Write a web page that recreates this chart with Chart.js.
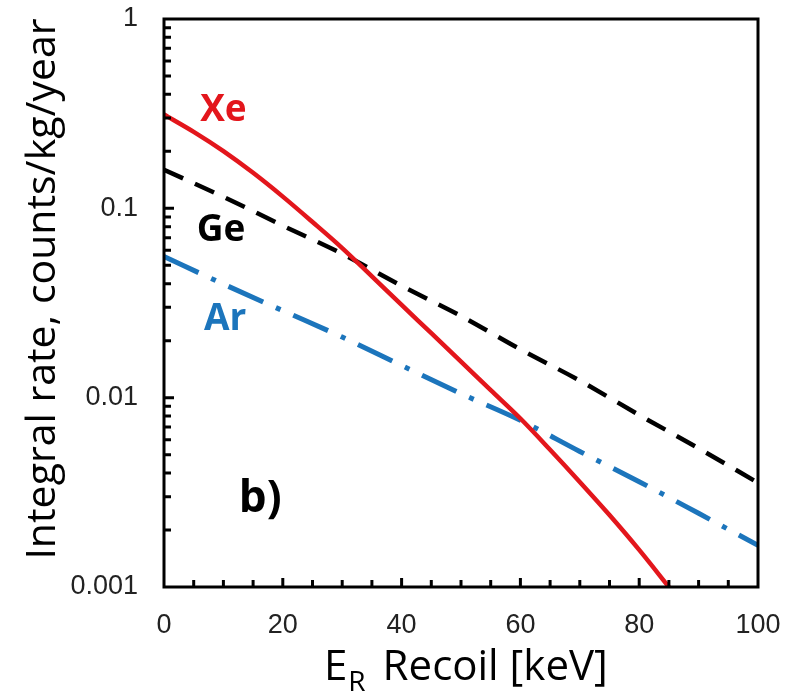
<!DOCTYPE html>
<html>
<head>
<meta charset="utf-8">
<script src="https://cdn.jsdelivr.net/npm/chart.js@4"></script>
<style>
  html, body { margin: 0; padding: 0; background: #fff; }
  #wrap { width: 786px; height: 691px; }
</style>
</head>
<body>
<div id="wrap"><canvas id="rateChart" width="786" height="691"></canvas></div>
<script>
// recoil energy grids (keV)
const energyXe = [0, 5, 10, 15, 20, 25, 30, 35, 40, 45, 50, 55, 60, 65, 70, 75, 80, 85];
const energyGeAr = [0, 10, 20, 30, 40, 50, 60, 70, 80, 90, 100];

// integral rates, counts/kg/year
const rateXe = [0.313, 0.2535, 0.2005, 0.154, 0.1153, 0.0847, 0.0617, 0.0437, 0.0309, 0.0219,
  0.0155, 0.01096, 0.00776, 0.00531, 0.00359, 0.0024, 0.00157, 0.0010];
const rateGe = [0.160, 0.115, 0.081, 0.0575, 0.039, 0.027, 0.018, 0.0123, 0.0081, 0.0054, 0.00355];
const rateAr = [0.0556, 0.0398, 0.0288, 0.0209, 0.0148, 0.0105, 0.0076, 0.0052, 0.0036, 0.00245, 0.00166];

// axis ticks
const xTicks = [0, 20, 40, 60, 80, 100];
const yTicks = [0.001, 0.01, 0.1, 1];

// curve labels: [text, energy, rate, colour]
const curveLabels = [
  ["Xe", 10, 0.33, "#e3161c"],
  ["Ge", 9.6, 0.076, "#000000"],
  ["Ar", 10.3, 0.0258, "#1c75bc"],
];

const toPoints = (xs, ys) => xs.map((x, i) => ({ x: x, y: ys[i] }));

// frame, inward tick marks, axis titles and curve labels
const framePlugin = {
  id: "frame",
  afterDatasetsDraw(chart) {
    const { ctx, chartArea: a, scales } = chart;
    const xs = scales.x, ys = scales.y;
    ctx.save();
    ctx.strokeStyle = "#000";
    ctx.lineWidth = 3;
    ctx.beginPath();
    // ticks on the bottom axis every 5 keV
    for (let v = 5; v < 100; v += 5) {
      const px = xs.getPixelForValue(v);
      const len = v % 20 === 0 ? 9 : 7;
      ctx.moveTo(px, a.bottom);
      ctx.lineTo(px, a.bottom - len);
    }
    // log ticks on the left axis
    for (let d = -3; d < 0; d++) {
      for (let k = 1; k < 10; k++) {
        if (k === 1 && d === -3) continue;
        const py = ys.getPixelForValue(k * Math.pow(10, d));
        const len = k === 1 ? 10 : 7;
        ctx.moveTo(a.left, py);
        ctx.lineTo(a.left + len, py);
      }
    }
    ctx.stroke();
    ctx.strokeRect(a.left, a.top, a.right - a.left, a.bottom - a.top);

    // curve labels
    ctx.textAlign = "center";
    ctx.textBaseline = "middle";
    ctx.font = "bold 37px 'Open Sans'";
    curveLabels.forEach(([t, ex, ry, c]) => {
      ctx.fillStyle = c;
      ctx.fillText(t, xs.getPixelForValue(ex), ys.getPixelForValue(ry));
    });
    ctx.fillStyle = "#000";
    ctx.font = "bold 44px 'Open Sans'";
    ctx.fillText("b)", xs.getPixelForValue(16.2), ys.getPixelForValue(0.0029));

    // y axis title
    ctx.save();
    ctx.translate(43, 289);
    ctx.rotate(-Math.PI / 2);
    ctx.font = "41px 'Open Sans'";
    ctx.fillText("Integral rate, counts/kg/year", 0, 0);
    ctx.restore();

    // x axis title with subscript
    ctx.textAlign = "left";
    ctx.textBaseline = "alphabetic";
    let x0 = 324;
    const base = 680;
    ctx.font = "42px 'Open Sans'";
    ctx.fillText("E", x0, base);
    x0 += ctx.measureText("E").width;
    ctx.font = "28px 'Open Sans'";
    ctx.fillText("R", x0 + 1, base + 11);
    x0 += ctx.measureText("R").width + 18;
    ctx.font = "42px 'Open Sans'";
    ctx.fillText("Recoil [keV]", x0, base);
    ctx.restore();
  },
};

new Chart(document.getElementById("rateChart"), {
  type: "line",
  data: {
    datasets: [
      {
        label: "Xe",
        data: toPoints(energyXe, rateXe),
        borderColor: "#e3161c",
        borderWidth: 4.5,
        cubicInterpolationMode: "monotone",
        order: 0,
      },
      {
        label: "Ge",
        data: toPoints(energyGeAr, rateGe),
        borderColor: "#000000",
        borderWidth: 4.5,
        borderDash: [21, 13],
        cubicInterpolationMode: "monotone",
        order: 1,
      },
      {
        label: "Ar",
        data: toPoints(energyGeAr, rateAr),
        borderColor: "#1c75bc",
        borderWidth: 5,
        borderDash: [38, 14, 5, 14],
        cubicInterpolationMode: "monotone",
        order: 2,
      },
    ],
  },
  options: {
    responsive: false,
    animation: false,
    layout: { padding: { top: 19, right: 28, left: 0, bottom: 0 } },
    elements: { point: { radius: 0 } },
    plugins: { legend: { display: false }, tooltip: { enabled: false } },
    scales: {
      x: {
        type: "linear",
        min: 0,
        max: 100,
        afterBuildTicks: (s) => { s.ticks = xTicks.map((v) => ({ value: v })); },
        afterFit: (s) => {
          s.height = 104;
          s.paddingLeft = 0;
          s.paddingRight = 0;
        },
        grid: { display: false, drawTicks: false },
        border: { display: false },
        ticks: {
          padding: 22,
          color: "#222",
          font: { family: "'Liberation Sans'", size: 27 },
          maxRotation: 0,
        },
      },
      y: {
        type: "logarithmic",
        min: 0.001,
        max: 1,
        afterBuildTicks: (s) => { s.ticks = yTicks.map((v) => ({ value: v })); },
        afterFit: (s) => {
          s.width = 164;
          s.paddingTop = 0;
          s.paddingBottom = 0;
        },
        grid: { display: false, drawTicks: false },
        border: { display: false },
        ticks: {
          padding: 26,
          color: "#222",
          font: { family: "'Liberation Sans'", size: 27 },
          callback: (v) => String(v),
        },
      },
    },
  },
  plugins: [framePlugin],
});
</script>
</body>
</html>
